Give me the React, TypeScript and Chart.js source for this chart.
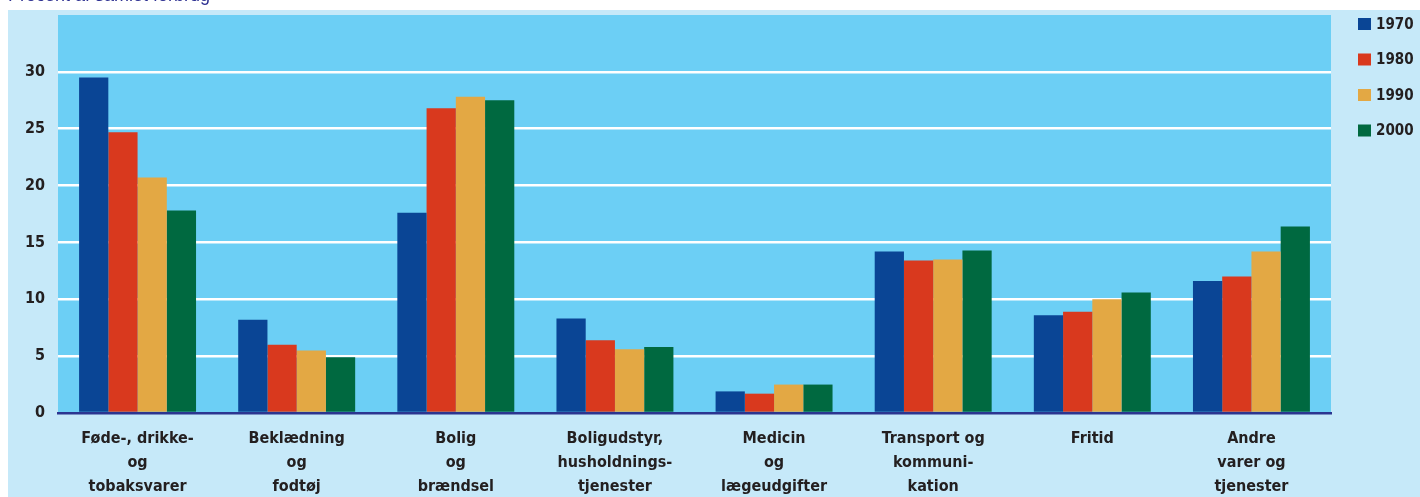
import React, { useEffect, useRef } from "react";
import { Chart, registerables } from "chart.js";

Chart.register(...registerables);

const categories: string[][] = [
  ["Føde-, drikke-", "og", "tobaksvarer"],
  ["Beklædning", "og", "fodtøj"],
  ["Bolig", "og", "brændsel"],
  ["Boligudstyr,", "husholdnings-", "tjenester"],
  ["Medicin", "og", "lægeudgifter"],
  ["Transport og", "kommuni-", "kation"],
  ["Fritid"],
  ["Andre", "varer og", "tjenester"],
];

const seriesNames = ["1970", "1980", "1990", "2000"];
const values1970 = [29.5, 8.2, 17.6, 8.3, 1.9, 14.2, 8.6, 11.6];
const values1980 = [24.7, 6.0, 26.8, 6.4, 1.7, 13.4, 8.9, 12.0];
const values1990 = [20.7, 5.5, 27.8, 5.6, 2.5, 13.5, 10.0, 14.2];
const values2000 = [17.8, 4.9, 27.5, 5.8, 2.5, 14.3, 10.6, 16.4];
const seriesColors = ["#0a4595", "#d9391e", "#e3a844", "#006940"];
const yTicks = [0, 5, 10, 15, 20, 25, 30];

const FONT = "'Liberation Sans Narrow', 'DejaVu Sans Condensed', 'Liberation Sans', sans-serif";
const TEXT = "#231f20";

const plotBg = {
  id: "plotBg",
  beforeDraw(chart: any) {
    const { ctx, chartArea } = chart;
    ctx.save();
    ctx.fillStyle = "#6ccff5";
    ctx.fillRect(chartArea.left, chartArea.top, chartArea.right - chartArea.left, chartArea.bottom - chartArea.top);
    ctx.restore();
  },
};

const sideLegend = {
  id: "sideLegend",
  afterDraw(chart: any) {
    const { ctx, chartArea } = chart;
    ctx.save();
    ctx.font = `bold 15px ${FONT}`;
    ctx.textBaseline = "middle";
    ctx.textAlign = "left";
    chart.data.datasets.forEach((ds: any, i: number) => {
      const cy = chartArea.top + 9 + i * 35.5;
      ctx.fillStyle = ds.backgroundColor;
      ctx.fillRect(chartArea.right + 27, cy - 6, 13, 12);
      ctx.fillStyle = TEXT;
      ctx.fillText(ds.label, chartArea.right + 45, cy + 1);
    });
    ctx.restore();
  },
};

export default function App() {
  const ref = useRef<HTMLCanvasElement>(null);
  useEffect(() => {
    if (!ref.current) return;
    const allValues = [values1970, values1980, values1990, values2000];
    const chart = new Chart(ref.current, {
      type: "bar",
      data: {
        labels: categories as any,
        datasets: seriesNames.map((name, i) => ({
          label: name,
          data: allValues[i],
          backgroundColor: seriesColors[i],
          borderWidth: 0,
          categoryPercentage: 0.735,
          barPercentage: 1,
        })),
      },
      options: {
        animation: false,
        responsive: false,
        maintainAspectRatio: false,
        layout: { padding: { left: 8, right: 89, top: 15, bottom: 0 } },
        plugins: {
          legend: { display: false },
          tooltip: { enabled: false },
          title: { display: false },
        },
        scales: {
          x: {
            grid: { display: false, drawTicks: false },
            border: { display: true, color: "#2b3590", width: 2.5 },
            ticks: {
              color: TEXT,
              font: { family: FONT, size: 16, weight: "bold", lineHeight: 1.5 },
              padding: 14,
              maxRotation: 0,
              autoSkip: false,
            },
            afterFit(scale: any) {
              scale.height = 84;
              scale.paddingLeft = 0;
              scale.paddingRight = 0;
            },
          },
          y: {
            min: 0,
            max: 35,
            afterBuildTicks(scale: any) {
              scale.ticks = yTicks.map((v) => ({ value: v }));
            },
            grid: {
              drawTicks: false,
              color: (c: any) => (c.tick && c.tick.value === 0 ? "rgba(0,0,0,0)" : "#ffffff"),
              lineWidth: 2.5,
            },
            border: { display: false },
            ticks: {
              color: TEXT,
              font: { family: FONT, size: 16, weight: "bold" },
              padding: 13,
            },
            afterFit(scale: any) {
              scale.width = 50;
              scale.paddingTop = 0;
              scale.paddingBottom = 0;
            },
          },
        },
      },
      plugins: [plotBg, sideLegend],
    });
    return () => chart.destroy();
  }, []);

  return (
    <div style={{ position: "fixed", left: 0, top: 0, width: 1420, height: 497, overflow: "hidden" }}>
      <div style={{ position: "absolute", left: 8, top: 10, width: 1412, height: 487, background: "#c6e9f9" }} />
      <div
        style={{
          position: "absolute",
          left: 8,
          top: -14,
          fontFamily: "'Liberation Sans', sans-serif",
          fontSize: 18,
          lineHeight: "18px",
          color: "#2e3192",
          whiteSpace: "nowrap",
        }}
      >
        Procent af samlet forbrug
      </div>
      <canvas ref={ref} width={1420} height={497} style={{ position: "absolute", left: 0, top: 0, width: 1420, height: 497 }} />
    </div>
  );
}
